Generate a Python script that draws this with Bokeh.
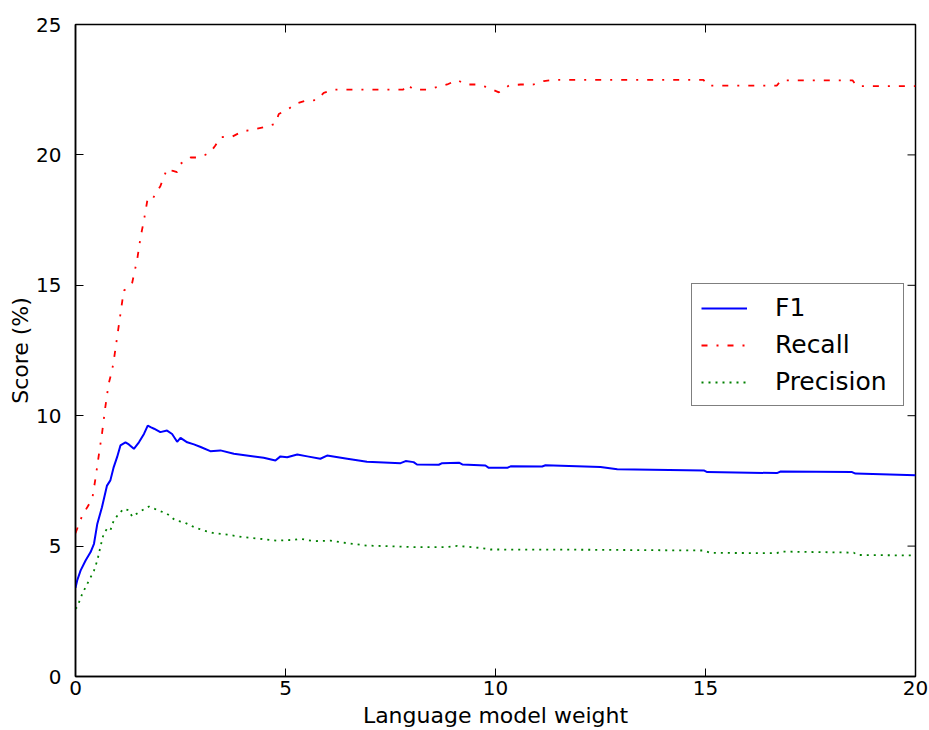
import math
from bokeh.plotting import figure
from bokeh.models import Range1d, FixedTicker, Legend, LegendItem
from bokeh.embed import file_html
from bokeh.resources import INLINE

# ---- data ----
x_ticks = [0, 5, 10, 15, 20]
y_ticks = [0, 5, 10, 15, 20, 25]

recall_x = [0, 0.16, 0.28, 0.40, 0.48, 0.56, 0.63, 0.71, 0.79, 0.87, 0.91, 0.99, 1.07, 1.15, 1.25,
            1.35, 1.47, 1.55, 1.63, 1.71, 1.80, 1.90, 2.02, 2.18, 2.30, 2.42, 2.50, 2.74, 2.90, 3.05,
            3.21, 3.33, 3.45, 3.73, 3.97, 4.20, 4.48, 4.76, 4.84, 5.08, 5.24, 5.48, 5.75, 5.91, 6.15,
            6.79, 7.38, 7.80, 7.90, 8.05, 8.37, 8.85, 9.09, 9.29, 9.56, 9.80, 10.08, 10.32, 10.60, 10.90,
            11.15, 11.39, 12.30, 13.50, 14.95, 15.05, 16.70, 16.80, 18.50, 18.60, 20.0]
recall_y = [5.5, 6.17, 6.49, 6.82, 7.64, 8.55, 9.30, 10.33, 11.23, 11.73, 12.1, 13.0, 13.9, 14.8, 14.9,
            15.1, 16.0, 16.85, 17.5, 18.25, 18.2, 18.5, 18.8, 19.47, 19.4, 19.34, 19.66, 19.9, 19.9, 19.97,
            20.1, 20.36, 20.68, 20.7, 20.9, 20.96, 21.06, 21.19, 21.57, 21.77, 21.96, 22.08, 22.1, 22.38, 22.5,
            22.5, 22.5, 22.5, 22.7, 22.5, 22.5, 22.7, 22.87, 22.7, 22.7, 22.6, 22.4, 22.66, 22.7, 22.7,
            22.83, 22.88, 22.88, 22.88, 22.88, 22.66, 22.66, 22.86, 22.86, 22.64, 22.64]

f1_x = [0, 0.04, 0.12, 0.24, 0.36, 0.44, 0.52, 0.63, 0.75, 0.83, 0.91, 0.99, 1.07, 1.19, 1.27,
        1.39, 1.51, 1.63, 1.72, 1.80, 1.87, 2.02, 2.18, 2.30, 2.42, 2.50, 2.66, 2.82, 2.98, 3.21,
        3.45, 3.77, 4.25, 4.48, 4.76, 4.88, 5.04, 5.28, 5.52, 5.83, 5.99, 6.47, 6.94, 7.74, 7.86,
        8.05, 8.13, 8.65, 8.73, 9.13, 9.21, 9.76, 9.84, 10.28, 10.36, 11.11, 11.19, 12.5, 12.9, 14.96,
        15.04, 16.70, 16.79, 18.49, 18.57, 20.0]
f1_y = [3.4, 3.68, 4.06, 4.45, 4.77, 5.09, 5.86, 6.49, 7.32, 7.52, 8.03, 8.41, 8.86, 8.98, 8.9,
        8.73, 8.98, 9.3, 9.62, 9.55, 9.5, 9.37, 9.43, 9.3, 9.0, 9.15, 8.98, 8.9, 8.8, 8.64,
        8.67, 8.54, 8.44, 8.39, 8.28, 8.44, 8.41, 8.51, 8.44, 8.35, 8.47, 8.35, 8.23, 8.18, 8.26,
        8.22, 8.13, 8.12, 8.18, 8.2, 8.13, 8.09, 8.0, 8.0, 8.06, 8.05, 8.1, 8.03, 7.95, 7.9,
        7.84, 7.8, 7.86, 7.84, 7.78, 7.72]

prec_x = [0, 0.04, 0.16, 0.32, 0.44, 0.52, 0.60, 0.67, 0.75, 0.83, 0.91, 1.03, 1.15, 1.27, 1.35,
          1.51, 1.75, 1.94, 2.18, 2.38, 2.58, 2.82, 3.05, 3.29, 3.61, 4.01, 4.40, 4.80, 5.20, 5.36,
          5.67, 6.07, 6.47, 6.94, 7.74, 8.05, 8.85, 9.09, 9.64, 9.88, 12.26, 14.96, 15.12, 16.70, 16.79,
          18.53, 18.61, 20.0]
prec_y = [2.6, 2.66, 3.17, 3.68, 4.06, 4.45, 5.02, 5.47, 5.66, 5.6, 5.98, 6.24, 6.43, 6.37, 6.13,
          6.3, 6.52, 6.39, 6.24, 5.98, 5.92, 5.73, 5.6, 5.5, 5.44, 5.34, 5.28, 5.21, 5.24, 5.28,
          5.19, 5.21, 5.11, 5.02, 4.98, 4.96, 4.96, 5.01, 4.93, 4.87, 4.86, 4.83, 4.74, 4.73, 4.79,
          4.75, 4.66, 4.64]

FONT = "DejaVu Sans"
X_MIN, X_MAX = 0, 20
Y_MIN, Y_MAX = 0, 25

p = figure(width=929, height=730, output_backend="svg", toolbar_location=None,
           x_range=Range1d(X_MIN, X_MAX), y_range=Range1d(Y_MIN, Y_MAX),
           min_border_left=75, min_border_right=14, min_border_top=24, min_border_bottom=54)
p.background_fill_color = "white"
p.border_fill_color = "white"
p.outline_line_color = "black"
p.outline_line_width = 1.5
p.xgrid.visible = False
p.ygrid.visible = False

for ax, ticks in ((p.xaxis[0], x_ticks), (p.yaxis[0], y_ticks)):
    ax.ticker = FixedTicker(ticks=ticks)
    ax.major_tick_in = 8
    ax.major_tick_out = 0
    ax.minor_tick_line_color = None
    ax.axis_line_color = "black"
    ax.axis_line_width = 1.5
    ax.major_tick_line_color = "black"
    ax.major_label_text_font = FONT
    ax.major_label_text_font_size = "20px"
    ax.major_label_text_color = "black"
    ax.axis_label_text_font = FONT
    ax.axis_label_text_font_size = "22px"
    ax.axis_label_text_font_style = "normal"
    ax.axis_label_text_color = "black"

p.xaxis.axis_label = "Language model weight"
p.yaxis.axis_label = "Score (%)"
p.xaxis.major_label_standoff = 4
p.xaxis.axis_label_standoff = 5
p.yaxis.major_label_standoff = 14
p.yaxis.axis_label_standoff = 0

# mirrored inward ticks on the top and right edges (matplotlib style)
p.ray(x=x_ticks, y=[Y_MAX] * len(x_ticks), length=8, length_units="screen",
      angle=-math.pi / 2, line_color="black", line_width=1)
p.ray(x=[X_MAX] * len(y_ticks), y=y_ticks, length=8, length_units="screen",
      angle=math.pi, line_color="black", line_width=1)

r_f1 = p.line(f1_x, f1_y, line_color="#0000ff", line_width=2)
r_rec = p.line(recall_x, recall_y, line_color="#ff0000", line_width=1.8, line_dash="6 9 2 9")
r_prec = p.line(prec_x, prec_y, line_color="#008000", line_width=1.8, line_dash="2 5")

legend = Legend(items=[LegendItem(label="F1", renderers=[r_f1]),
                       LegendItem(label="Recall", renderers=[r_rec]),
                       LegendItem(label="Precision", renderers=[r_prec])],
                location=(616, 270))
legend.label_text_font = FONT
legend.label_text_font_size = "25px"
legend.label_text_color = "black"
legend.border_line_color = "black"
legend.border_line_width = 1.5
legend.background_fill_color = "white"
legend.background_fill_alpha = 1.0
legend.padding = 9
legend.margin = 0
legend.spacing = 8
legend.glyph_width = 46
legend.glyph_height = 24
legend.label_height = 24
legend.label_width = 119
legend.label_standoff = 28
p.add_layout(legend, "center")

open("out.html", "w").write(file_html(p, INLINE))
